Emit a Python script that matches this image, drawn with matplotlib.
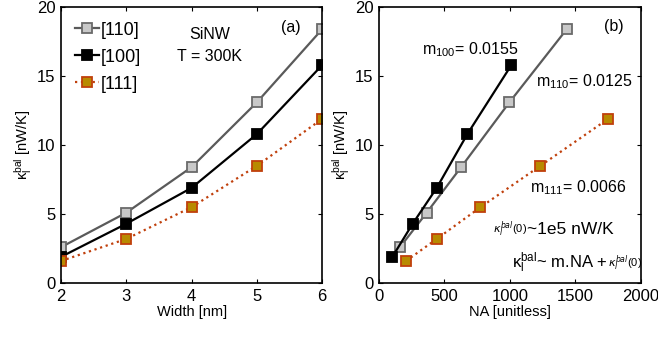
import numpy as np
import matplotlib
matplotlib.use("Agg")
import matplotlib.pyplot as plt

plt.rcParams['font.family'] = ['Liberation Sans', 'DejaVu Sans']
plt.rcParams['mathtext.fontset'] = 'dejavusans'
plt.rcParams['mathtext.default'] = 'regular'

# panel (a): conductance vs width
width = [2, 3, 4, 5, 6]
k110 = [2.6, 5.1, 8.4, 13.1, 18.4]
k100 = [1.9, 4.3, 6.9, 10.8, 15.8]
k111 = [1.6, 3.2, 5.5, 8.5, 11.9]

# panel (b): conductance vs number of atoms
na110 = [160, 364, 627, 996, 1434]
na100 = [102, 257, 441, 675, 1011]
na111 = [206, 441, 775, 1233, 1750]

styles = {
    "110": dict(color="#5a5a5a", ls="-", lw=1.6, marker="s", ms=7,
                mfc="#c8c8c8", mec="#6a6a6a", mew=1.3),
    "100": dict(color="black", ls="-", lw=1.6, marker="s", ms=7,
                mfc="black", mec="black", mew=1.3),
    "111": dict(color="#c0400c", ls=":", lw=1.6, marker="s", ms=7,
                mfc="#b88a00", mec="#c0400c", mew=1.3),
}

fig = plt.figure(figsize=(6.58, 3.37), dpi=100)
ax1 = fig.add_axes([0.0927, 0.160, 0.397, 0.819])
ax2 = fig.add_axes([0.576, 0.160, 0.398, 0.819])

ax1.plot(width, k110, label="[110]", **styles["110"])
ax1.plot(width, k100, label="[100]", **styles["100"])
ax1.plot(width, k111, label="[111]", **styles["111"])
ax1.set_xlim(2, 6)
ax1.set_ylim(0, 20)
ax1.set_xticks([2, 3, 4, 5, 6])
ax1.set_yticks([0, 5, 10, 15, 20])
ax1.set_xlabel("Width [nm]", fontsize=10.5, labelpad=1)
ax1.set_ylabel(r"$\kappa_l^{bal}$ [nW/K]", fontsize=10.5, labelpad=2)
ax1.legend(loc="upper left", bbox_to_anchor=(0.04, 0.96), frameon=False,
           fontsize=13, handlelength=1.3, handletextpad=0.15,
           borderaxespad=0, labelspacing=0.55, borderpad=0.2)
ax1.text(4.28, 18.0, "SiNW", ha="center", va="center", fontsize=11.5)
ax1.text(4.28, 16.4, "T = 300K", ha="center", va="center", fontsize=11.5)
ax1.text(5.52, 18.5, "(a)", ha="center", va="center", fontsize=11.5)

ax2.plot(na110, k110, **styles["110"])
ax2.plot(na100, k100, **styles["100"])
ax2.plot(na111, k111, **styles["111"])
ax2.set_xlim(0, 2000)
ax2.set_ylim(0, 20)
ax2.set_xticks([0, 500, 1000, 1500, 2000])
ax2.set_yticks([0, 5, 10, 15, 20])
ax2.set_xlabel("NA [unitless]", fontsize=10.5, labelpad=1)
ax2.set_ylabel(r"$\kappa_l^{bal}$ [nW/K]", fontsize=10.5, labelpad=2)
ax2.text(1790, 18.6, "(b)", ha="center", va="center", fontsize=11.5)
ax2.text(330, 16.9, r"m$_{100}$= 0.0155", ha="left", va="center", fontsize=11.5)
ax2.text(1200, 14.6, r"m$_{110}$= 0.0125", ha="left", va="center", fontsize=11.5)
ax2.text(1150, 6.9, r"m$_{111}$= 0.0066", ha="left", va="center", fontsize=11.5)

# kappa(0) line, pieces chained left to right
t1 = ax2.text(870, 3.9, r"$\it{\kappa_l^{bal}}$(0)", ha="left", va="center",
              fontsize=8)
ax2.annotate("~1e5 nW/K", xy=(1, 0.5), xycoords=t1, ha="left", va="center",
             fontsize=12.5)
t2 = ax2.text(1015, 1.5, r"$\kappa_l^{bal}$~ m.NA +", ha="left",
              va="center", fontsize=12)
ax2.annotate(r"$\it{\kappa_l^{bal}}$(0)", xy=(1, 0.45), xycoords=t2,
             ha="left", va="center", fontsize=8)

for ax in (ax1, ax2):
    ax.tick_params(direction="in", top=True, right=True, labelsize=12,
                   length=3, width=0.8, pad=4)
    for sp in ax.spines.values():
        sp.set_linewidth(1.2)

fig.savefig("out.png", dpi=100)
